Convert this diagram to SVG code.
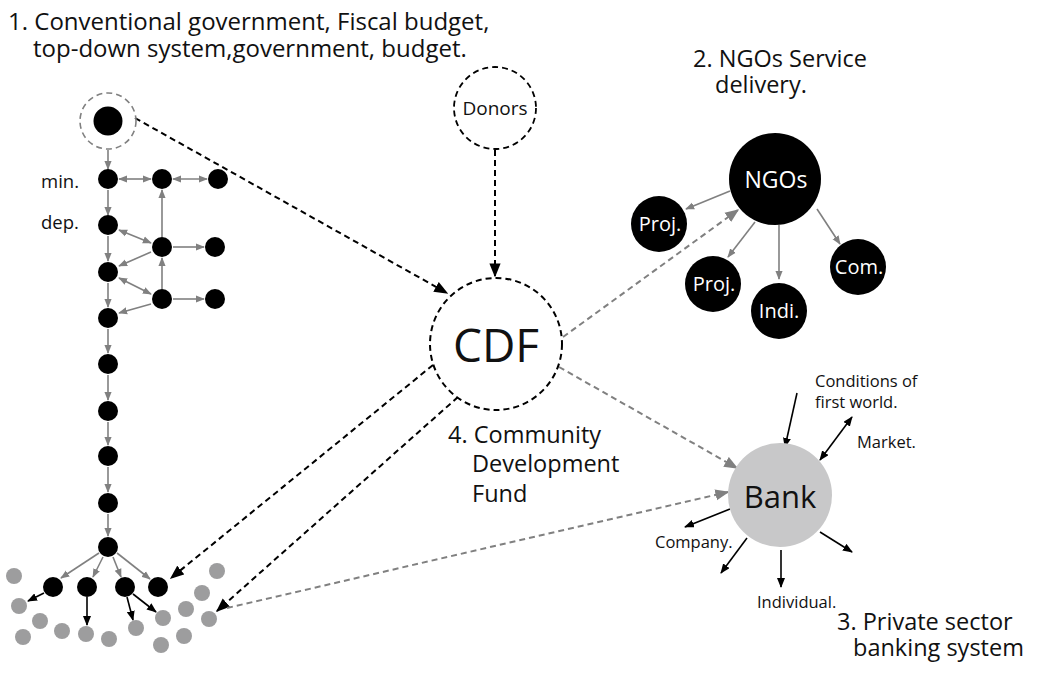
<svg xmlns="http://www.w3.org/2000/svg" width="1042" height="677" viewBox="0 0 1042 677">
<style>
text{font-family:"Open Sans","Liberation Sans",sans-serif;fill:#111}
.title{font-size:24px}
.big{font-size:23.5px}
.lbl{font-size:16.5px}
.sm{font-size:18.5px}
.nd{font-size:20px;fill:#fff}
.blk{fill:#000}
.dot{fill:#9d9d9e}
.g{stroke:#808080;stroke-width:1.6;fill:none}
.k{stroke:#000;stroke-width:1.6;fill:none}
.kd{stroke:#000;stroke-width:2;stroke-dasharray:6 4;fill:none}
.gd{stroke:#808080;stroke-width:2;stroke-dasharray:6 4;fill:none}
</style>
<defs>
<marker id="ag" viewBox="0 0 10 8" refX="9" refY="4" markerWidth="9" markerHeight="8" orient="auto-start-reverse" markerUnits="userSpaceOnUse"><path d="M0,0 L10,4 L0,8 z" fill="#808080"/></marker>
<marker id="ak" viewBox="0 0 10 8" refX="9" refY="4" markerWidth="10" markerHeight="8" orient="auto-start-reverse" markerUnits="userSpaceOnUse"><path d="M0,0 L10,4 L0,8 z" fill="#000"/></marker>
<marker id="akb" viewBox="0 0 10 8" refX="9" refY="4" markerWidth="14" markerHeight="12" orient="auto" markerUnits="userSpaceOnUse"><path d="M0,0 L10,4 L0,8 z" fill="#000"/></marker>
<marker id="agb" viewBox="0 0 10 8" refX="9" refY="4" markerWidth="14" markerHeight="12" orient="auto" markerUnits="userSpaceOnUse"><path d="M0,0 L10,4 L0,8 z" fill="#808080"/></marker>
</defs>

<g id="titles">
<text class="title" x="8" y="30">1. Conventional government, Fiscal budget,</text>
<text class="title" x="33" y="57">top-down system,government, budget.</text>
<text class="big" x="693" y="67">2. NGOs Service</text>
<text class="big" x="715" y="93">delivery.</text>
<text class="big" x="448" y="443">4. Community</text>
<text class="big" x="472" y="472">Development</text>
<text class="big" x="472" y="502">Fund</text>
<text class="big" x="837" y="630">3. Private sector</text>
<text class="big" x="853" y="656">banking system</text>
</g>

<g id="connectors">
<line class="g" x1="108" y1="150" x2="108" y2="169" marker-end="url(#ag)"/>
<line class="g" x1="119" y1="179" x2="151" y2="179" marker-start="url(#ag)" marker-end="url(#ag)"/>
<line class="g" x1="173" y1="179" x2="207" y2="179" marker-start="url(#ag)" marker-end="url(#ag)"/>
<line class="g" x1="108" y1="190" x2="108" y2="215" marker-end="url(#ag)"/>
<line class="g" x1="162" y1="237" x2="162" y2="190" marker-end="url(#ag)"/>
<line class="g" x1="119" y1="230" x2="151" y2="243" marker-start="url(#ag)" marker-end="url(#ag)"/>
<line class="g" x1="173" y1="247" x2="204" y2="247" marker-end="url(#ag)"/>
<line class="g" x1="151" y1="252" x2="119" y2="266" marker-end="url(#ag)"/>
<line class="g" x1="108" y1="236" x2="108" y2="261" marker-end="url(#ag)"/>
<line class="g" x1="119" y1="278" x2="151" y2="294" marker-start="url(#ag)" marker-end="url(#ag)"/>
<line class="g" x1="162" y1="289" x2="162" y2="258" marker-end="url(#ag)"/>
<line class="g" x1="173" y1="299" x2="204" y2="299" marker-end="url(#ag)"/>
<line class="g" x1="151" y1="304" x2="119" y2="313" marker-end="url(#ag)"/>
<line class="g" x1="108" y1="283" x2="108" y2="307" marker-end="url(#ag)"/>
<line class="g" x1="108" y1="329" x2="108" y2="353" marker-end="url(#ag)"/>
<line class="g" x1="108" y1="375" x2="108" y2="400" marker-end="url(#ag)"/>
<line class="g" x1="108" y1="422" x2="108" y2="445" marker-end="url(#ag)"/>
<line class="g" x1="108" y1="467" x2="108" y2="492" marker-end="url(#ag)"/>
<line class="g" x1="108" y1="514" x2="108" y2="536" marker-end="url(#ag)"/>
<line class="g" x1="99" y1="553" x2="61" y2="578" marker-end="url(#ag)"/>
<line class="g" x1="103" y1="557" x2="93" y2="577" marker-end="url(#ag)"/>
<line class="g" x1="113" y1="557" x2="121" y2="577" marker-end="url(#ag)"/>
<line class="g" x1="117" y1="553" x2="150" y2="579" marker-end="url(#ag)"/>
<line class="k" x1="44" y1="593" x2="28" y2="601" marker-end="url(#ak)"/>
<line class="k" x1="87" y1="597" x2="87" y2="625" marker-end="url(#ak)"/>
<line class="k" x1="127" y1="597" x2="133" y2="620" marker-end="url(#ak)"/>
<line class="k" x1="133" y1="594" x2="156" y2="612" marker-end="url(#ak)"/>
<line class="kd" x1="135" y1="118" x2="447" y2="293" marker-end="url(#akb)"/>
<line class="kd" x1="495" y1="150" x2="495" y2="276" marker-end="url(#akb)"/>
<line class="kd" x1="433" y1="365" x2="171" y2="578" marker-end="url(#akb)"/>
<line class="kd" x1="458" y1="397" x2="217" y2="611" marker-end="url(#akb)"/>
<line class="gd" x1="563" y1="337" x2="738" y2="210" marker-end="url(#agb)"/>
<line class="gd" x1="559" y1="367" x2="737" y2="468" marker-end="url(#agb)"/>
<line class="gd" x1="227" y1="608" x2="728" y2="492" marker-end="url(#agb)"/>
<line class="g" x1="730" y1="191" x2="686" y2="209" marker-end="url(#ag)"/>
<line class="g" x1="755" y1="222" x2="728" y2="257" marker-end="url(#ag)"/>
<line class="g" x1="779" y1="225" x2="779" y2="279" marker-end="url(#ag)"/>
<line class="g" x1="817" y1="209" x2="840" y2="244" marker-end="url(#ag)"/>
<line class="k" x1="797" y1="393" x2="785" y2="447" marker-end="url(#ak)"/>
<line class="k" x1="820" y1="460" x2="852" y2="417" marker-start="url(#ak)" marker-end="url(#ak)"/>
<line class="k" x1="730" y1="509" x2="685" y2="527" marker-end="url(#ak)"/>
<line class="k" x1="747" y1="538" x2="721" y2="573" marker-end="url(#ak)"/>
<line class="k" x1="781" y1="550" x2="781" y2="587" marker-end="url(#ak)"/>
<line class="k" x1="820" y1="532" x2="852" y2="552" marker-end="url(#ak)"/>
</g>

<g id="gov-top">
<circle cx="108" cy="121" r="28" fill="none" stroke="#808080" stroke-width="1.6" stroke-dasharray="6 4"/>
<circle cx="108" cy="121" r="14.5" class="blk"/>
</g>
<g id="gov-tree">
<circle cx="108" cy="179" r="10" class="blk"/>
<circle cx="162" cy="179" r="10" class="blk"/>
<circle cx="218" cy="179" r="10" class="blk"/>
<circle cx="108" cy="225" r="10" class="blk"/>
<circle cx="162" cy="247" r="10" class="blk"/>
<circle cx="215" cy="247" r="10" class="blk"/>
<circle cx="108" cy="272" r="10" class="blk"/>
<circle cx="162" cy="299" r="10" class="blk"/>
<circle cx="215" cy="299" r="10" class="blk"/>
<circle cx="108" cy="318" r="10" class="blk"/>
<circle cx="108" cy="364" r="10" class="blk"/>
<circle cx="108" cy="411" r="10" class="blk"/>
<circle cx="108" cy="456" r="10" class="blk"/>
<circle cx="108" cy="503" r="10" class="blk"/>
<circle cx="108" cy="547" r="10" class="blk"/>
<circle cx="53" cy="587" r="10" class="blk"/>
<circle cx="87" cy="587" r="10" class="blk"/>
<circle cx="125" cy="587" r="10" class="blk"/>
<circle cx="158" cy="587" r="10" class="blk"/>
<text class="sm" x="41" y="188">min.</text>
<text class="sm" x="41" y="229">dep.</text>
</g>
<g id="people">
<circle cx="14" cy="576" r="8" class="dot"/>
<circle cx="19" cy="606" r="8" class="dot"/>
<circle cx="40" cy="621" r="8" class="dot"/>
<circle cx="23" cy="637" r="8" class="dot"/>
<circle cx="62" cy="631" r="8" class="dot"/>
<circle cx="86" cy="634" r="8" class="dot"/>
<circle cx="109" cy="639" r="8" class="dot"/>
<circle cx="136" cy="628" r="8" class="dot"/>
<circle cx="163" cy="618" r="8" class="dot"/>
<circle cx="161" cy="645" r="8" class="dot"/>
<circle cx="186" cy="609" r="8" class="dot"/>
<circle cx="184" cy="636" r="8" class="dot"/>
<circle cx="202" cy="593" r="8" class="dot"/>
<circle cx="217" cy="571" r="8" class="dot"/>
<circle cx="209" cy="619" r="8" class="dot"/>
</g>

<g id="donors">
<circle cx="495" cy="108" r="41" fill="#fff" stroke="#000" stroke-width="1.8" stroke-dasharray="6 4"/>
<text x="495" y="115" text-anchor="middle" style="font-size:19px">Donors</text>
</g>
<g id="cdf">
<circle cx="496" cy="344" r="66" fill="#fff" stroke="#000" stroke-width="2" stroke-dasharray="6 4"/>
<text x="496" y="362" text-anchor="middle" style="font-size:46px">CDF</text>
</g>

<g id="ngos">
<circle cx="775" cy="179" r="46" class="blk"/>
<text x="776" y="188" text-anchor="middle" style="font-size:23px;fill:#fff">NGOs</text>
</g>
<g id="proj1"><circle cx="659" cy="224" r="28" class="blk"/><text class="nd" x="660" y="231" text-anchor="middle">Proj.</text></g>
<g id="proj2"><circle cx="713" cy="284" r="28" class="blk"/><text class="nd" x="714" y="291" text-anchor="middle">Proj.</text></g>
<g id="indi"><circle cx="779" cy="311" r="28" class="blk"/><text class="nd" x="779" y="318" text-anchor="middle">Indi.</text></g>
<g id="com"><circle cx="858" cy="267" r="28" class="blk"/><text class="nd" x="859" y="274" text-anchor="middle">Com.</text></g>

<g id="bank">
<circle cx="780" cy="495" r="52" fill="#c8c8c9"/>
<text x="780" y="508" text-anchor="middle" style="font-size:31px">Bank</text>
</g>
<g id="bank-labels">
<text class="lbl" x="815" y="387">Conditions of</text>
<text class="lbl" x="815" y="408">first world.</text>
<text class="lbl" x="857" y="448">Market.</text>
<text class="lbl" x="655" y="548">Company.</text>
<text class="lbl" x="757" y="608">Individual.</text>
</g>
</svg>
